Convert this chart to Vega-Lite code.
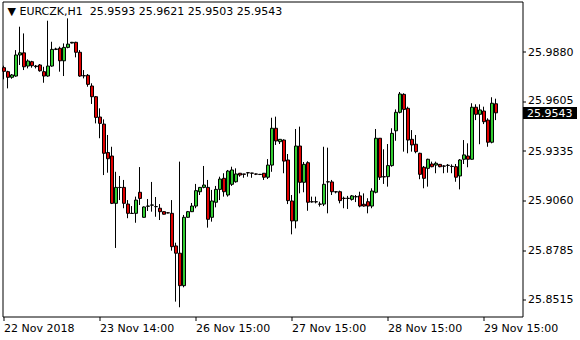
{
"$schema":"https://vega.github.io/schema/vega-lite/v6.json",
"width":520,"height":315,"autosize":"none",
"padding":{"left":2.5,"top":1.5,"right":57.5,"bottom":23.5},
"background":"white",
"view":{"stroke":"black","strokeWidth":1},
"config":{"font":"DejaVu Sans"},
"title":{"text":"▼ EURCZK,H1\u00a0\u00a025.9593 25.9621 25.9503 25.9543","anchor":"start","frame":"group","orient":"none","dy":10.5,"baseline":"middle","fontSize":11,"fontWeight":"normal","font":"DejaVu Sans","color":"black","dx":5},
"data":{"values":[
{"i":0,"o":25.9792,"h":25.9803,"l":25.9728,"c":25.9772},
{"i":1,"o":25.9770,"h":25.9775,"l":25.9678,"c":25.9739},
{"i":2,"o":25.9739,"h":25.9757,"l":25.9731,"c":25.9752},
{"i":3,"o":25.9746,"h":25.9889,"l":25.9742,"c":25.9862},
{"i":4,"o":25.9862,"h":26.0018,"l":25.9807,"c":25.9874},
{"i":5,"o":25.9874,"h":25.9981,"l":25.9779,"c":25.9797},
{"i":6,"o":25.9801,"h":25.9838,"l":25.9788,"c":25.9829},
{"i":7,"o":25.9825,"h":25.9830,"l":25.9792,"c":25.9803},
{"i":8,"o":25.9801,"h":25.9807,"l":25.9788,"c":25.9798},
{"i":9,"o":25.9807,"h":25.9812,"l":25.9770,"c":25.9775},
{"i":10,"o":25.9770,"h":25.9797,"l":25.9709,"c":25.9746},
{"i":11,"o":25.9746,"h":26.0051,"l":25.9742,"c":25.9801},
{"i":12,"o":25.9801,"h":25.9935,"l":25.9797,"c":25.9893},
{"i":13,"o":25.9893,"h":25.9902,"l":25.9889,"c":25.9895},
{"i":14,"o":25.9899,"h":25.9908,"l":25.9770,"c":25.9830},
{"i":15,"o":25.9830,"h":25.9926,"l":25.9746,"c":25.9904},
{"i":16,"o":25.9904,"h":26.0064,"l":25.9899,"c":25.9922},
{"i":17,"o":25.9928,"h":25.9934,"l":25.9926,"c":25.9932},
{"i":18,"o":25.9932,"h":25.9935,"l":25.9849,"c":25.9877},
{"i":19,"o":25.9877,"h":25.9889,"l":25.9742,"c":25.9746},
{"i":20,"o":25.9748,"h":25.9779,"l":25.9733,"c":25.9747},
{"i":21,"o":25.9750,"h":25.9757,"l":25.9687,"c":25.9700},
{"i":22,"o":25.9691,"h":25.9706,"l":25.9592,"c":25.9632},
{"i":23,"o":25.9632,"h":25.9636,"l":25.9485,"c":25.9518},
{"i":24,"o":25.9520,"h":25.9568,"l":25.9403,"c":25.9485},
{"i":25,"o":25.9481,"h":25.9507,"l":25.9200,"c":25.9320},
{"i":26,"o":25.9324,"h":25.9421,"l":25.9213,"c":25.9290},
{"i":27,"o":25.9305,"h":25.9356,"l":25.9040,"c":25.9044},
{"i":28,"o":25.9044,"h":25.9218,"l":25.8798,"c":25.9132},
{"i":29,"o":25.9132,"h":25.9195,"l":25.9062,"c":25.9131},
{"i":30,"o":25.9132,"h":25.9173,"l":25.9017,"c":25.9044},
{"i":31,"o":25.9040,"h":25.9062,"l":25.8962,"c":25.8989},
{"i":32,"o":25.8989,"h":25.9029,"l":25.8988,"c":25.8988},
{"i":33,"o":25.8989,"h":25.9081,"l":25.8937,"c":25.9062},
{"i":34,"o":25.9105,"h":25.9244,"l":25.9035,"c":25.9071},
{"i":35,"o":25.8967,"h":25.9027,"l":25.8966,"c":25.9024},
{"i":36,"o":25.9028,"h":25.9068,"l":25.9002,"c":25.9029},
{"i":37,"o":25.9034,"h":25.9162,"l":25.8998,"c":25.9035},
{"i":38,"o":25.9026,"h":25.9079,"l":25.8970,"c":25.9026},
{"i":39,"o":25.9017,"h":25.9040,"l":25.8952,"c":25.8998},
{"i":40,"o":25.8998,"h":25.8999,"l":25.8983,"c":25.8984},
{"i":41,"o":25.8992,"h":25.8995,"l":25.8989,"c":25.8991},
{"i":42,"o":25.8989,"h":25.9062,"l":25.8783,"c":25.8805},
{"i":43,"o":25.8809,"h":25.8827,"l":25.8502,"c":25.8769},
{"i":44,"o":25.8769,"h":25.9274,"l":25.8471,"c":25.8590},
{"i":45,"o":25.8590,"h":25.8980,"l":25.8581,"c":25.8967},
{"i":46,"o":25.8967,"h":25.9002,"l":25.8966,"c":25.8998},
{"i":47,"o":25.8998,"h":25.9046,"l":25.8996,"c":25.9029},
{"i":48,"o":25.9029,"h":25.9151,"l":25.9017,"c":25.9114},
{"i":49,"o":25.9108,"h":25.9134,"l":25.9090,"c":25.9132},
{"i":50,"o":25.9132,"h":25.9250,"l":25.9127,"c":25.9145},
{"i":51,"o":25.9132,"h":25.9173,"l":25.8910,"c":25.8956},
{"i":52,"o":25.8967,"h":25.9118,"l":25.8943,"c":25.9057},
{"i":53,"o":25.9050,"h":25.9140,"l":25.9022,"c":25.9121},
{"i":54,"o":25.9121,"h":25.9191,"l":25.9062,"c":25.9178},
{"i":55,"o":25.9182,"h":25.9210,"l":25.9081,"c":25.9108},
{"i":56,"o":25.9090,"h":25.9228,"l":25.9081,"c":25.9222},
{"i":57,"o":25.9149,"h":25.9246,"l":25.9140,"c":25.9228},
{"i":58,"o":25.9163,"h":25.9237,"l":25.9158,"c":25.9206},
{"i":59,"o":25.9210,"h":25.9211,"l":25.9191,"c":25.9200},
{"i":60,"o":25.9206,"h":25.9206,"l":25.9185,"c":25.9204},
{"i":61,"o":25.9213,"h":25.9214,"l":25.9191,"c":25.9212},
{"i":62,"o":25.9211,"h":25.9212,"l":25.9185,"c":25.9210},
{"i":63,"o":25.9206,"h":25.9208,"l":25.9200,"c":25.9205},
{"i":64,"o":25.9204,"h":25.9206,"l":25.9200,"c":25.9203},
{"i":65,"o":25.9210,"h":25.9210,"l":25.9173,"c":25.9188},
{"i":66,"o":25.9188,"h":25.9288,"l":25.9178,"c":25.9255},
{"i":67,"o":25.9255,"h":25.9516,"l":25.9218,"c":25.9458},
{"i":68,"o":25.9458,"h":25.9522,"l":25.9366,"c":25.9388},
{"i":69,"o":25.9384,"h":25.9397,"l":25.9371,"c":25.9397},
{"i":70,"o":25.9393,"h":25.9397,"l":25.9210,"c":25.9277},
{"i":71,"o":25.9283,"h":25.9316,"l":25.9040,"c":25.9059},
{"i":72,"o":25.9057,"h":25.9090,"l":25.8873,"c":25.8947},
{"i":73,"o":25.8947,"h":25.9454,"l":25.8906,"c":25.9360},
{"i":74,"o":25.9360,"h":25.9467,"l":25.9099,"c":25.9160},
{"i":75,"o":25.9160,"h":25.9272,"l":25.9105,"c":25.9259},
{"i":76,"o":25.9268,"h":25.9276,"l":25.9003,"c":25.9050},
{"i":77,"o":25.9053,"h":25.9081,"l":25.9048,"c":25.9052},
{"i":78,"o":25.9053,"h":25.9081,"l":25.9044,"c":25.9052},
{"i":79,"o":25.9040,"h":25.9053,"l":25.9026,"c":25.9039},
{"i":80,"o":25.9040,"h":25.9356,"l":25.9029,"c":25.9149},
{"i":81,"o":25.9163,"h":25.9351,"l":25.8989,"c":25.9162},
{"i":82,"o":25.9162,"h":25.9173,"l":25.9090,"c":25.9108},
{"i":83,"o":25.9108,"h":25.9109,"l":25.9099,"c":25.9107},
{"i":84,"o":25.9108,"h":25.9114,"l":25.9044,"c":25.9059},
{"i":85,"o":25.9072,"h":25.9081,"l":25.9017,"c":25.9071},
{"i":86,"o":25.9072,"h":25.9085,"l":25.9013,"c":25.9071},
{"i":87,"o":25.9066,"h":25.9090,"l":25.9059,"c":25.9085},
{"i":88,"o":25.9081,"h":25.9090,"l":25.9051,"c":25.9080},
{"i":89,"o":25.9085,"h":25.9108,"l":25.9022,"c":25.9029},
{"i":90,"o":25.9039,"h":25.9099,"l":25.9026,"c":25.9029},
{"i":91,"o":25.9053,"h":25.9072,"l":25.8989,"c":25.9029},
{"i":92,"o":25.9029,"h":25.9127,"l":25.9017,"c":25.9112},
{"i":93,"o":25.9105,"h":25.9454,"l":25.9099,"c":25.9403},
{"i":94,"o":25.9403,"h":25.9403,"l":25.9173,"c":25.9188},
{"i":95,"o":25.9191,"h":25.9342,"l":25.9151,"c":25.9190},
{"i":96,"o":25.9191,"h":25.9371,"l":25.9136,"c":25.9252},
{"i":97,"o":25.9252,"h":25.9458,"l":25.9246,"c":25.9430},
{"i":98,"o":25.9444,"h":25.9562,"l":25.9389,"c":25.9546},
{"i":99,"o":25.9546,"h":25.9658,"l":25.9540,"c":25.9647},
{"i":100,"o":25.9645,"h":25.9651,"l":25.9329,"c":25.9562},
{"i":101,"o":25.9568,"h":25.9577,"l":25.9320,"c":25.9393},
{"i":102,"o":25.9397,"h":25.9448,"l":25.9329,"c":25.9366},
{"i":103,"o":25.9370,"h":25.9421,"l":25.9320,"c":25.9329},
{"i":104,"o":25.9320,"h":25.9323,"l":25.9177,"c":25.9204},
{"i":105,"o":25.9243,"h":25.9250,"l":25.9127,"c":25.9182},
{"i":106,"o":25.9237,"h":25.9290,"l":25.9136,"c":25.9287},
{"i":107,"o":25.9261,"h":25.9274,"l":25.9243,"c":25.9246},
{"i":108,"o":25.9255,"h":25.9274,"l":25.9210,"c":25.9265},
{"i":109,"o":25.9259,"h":25.9260,"l":25.9243,"c":25.9246},
{"i":110,"o":25.9250,"h":25.9254,"l":25.9210,"c":25.9249},
{"i":111,"o":25.9254,"h":25.9261,"l":25.9213,"c":25.9253},
{"i":112,"o":25.9248,"h":25.9259,"l":25.9210,"c":25.9247},
{"i":113,"o":25.9246,"h":25.9261,"l":25.9163,"c":25.9188},
{"i":114,"o":25.9195,"h":25.9288,"l":25.9121,"c":25.9283},
{"i":115,"o":25.9287,"h":25.9393,"l":25.9261,"c":25.9311},
{"i":116,"o":25.9305,"h":25.9375,"l":25.9243,"c":25.9287},
{"i":117,"o":25.9287,"h":25.9596,"l":25.9286,"c":25.9574},
{"i":118,"o":25.9574,"h":25.9590,"l":25.9503,"c":25.9535},
{"i":119,"o":25.9535,"h":25.9590,"l":25.9370,"c":25.9559},
{"i":120,"o":25.9553,"h":25.9577,"l":25.9481,"c":25.9494},
{"i":121,"o":25.9503,"h":25.9513,"l":25.9356,"c":25.9381},
{"i":122,"o":25.9381,"h":25.9629,"l":25.9375,"c":25.9596},
{"i":123,"o":25.9593,"h":25.9621,"l":25.9503,"c":25.9543}
]},
"encoding":{
 "x":{"field":"i","type":"quantitative","scale":{"domain":[-0.25,129.75],"nice":false,"zero":false,"padding":0},
  "axis":{"title":null,"grid":false,"domain":false,"values":[0,24,48,72,96,120],
   "labelExpr":"datum.value==0?'22 Nov 2018':datum.value==24?'23 Nov 14:00':datum.value==48?'26 Nov 15:00':datum.value==72?'27 Nov 15:00':datum.value==96?'28 Nov 15:00':'29 Nov 15:00'",
   "labelAlign":"left","labelBaseline":"top","labelPadding":2,"tickSize":4,"tickColor":"black","labelColor":"black","labelFont":"DejaVu Sans","labelFontSize":11,"labelFlush":false,"labelOverlap":false}}
},
"layer":[
 {"mark":{"type":"rule","color":"black","strokeWidth":1},
  "encoding":{
   "y":{"field":"l","type":"quantitative","scale":{"domain":[25.842,26.0157],"nice":false,"zero":false,"padding":0},
    "axis":{"orient":"right","title":null,"grid":false,"domain":false,"values":[25.8515,25.8785,25.906,25.9335,25.9543,25.9605,25.988],"format":".4f",
     "tickColor":"black","labelColor":{"condition":{"test":"abs(datum.value-25.9543)<0.00001","value":"white"},"value":"black"},
     "tickSize":{"condition":{"test":"abs(datum.value-25.9543)<0.00001","value":54},"value":3},
     "tickWidth":{"condition":{"test":"abs(datum.value-25.9543)<0.00001","value":12},"value":1},
     "labelPadding":{"condition":{"test":"abs(datum.value-25.9543)<0.00001","value":-50},"value":2},
     "labelOffset":{"condition":{"test":"datum.value>25.96 && datum.value<25.962","value":-1},"value":0.5},
     "labelBaseline":"middle","labelFont":"DejaVu Sans","labelFontSize":11,"labelFlush":false,"labelOverlap":false}},
   "y2":{"field":"h"}}},
 {"mark":{"type":"bar","size":3,"stroke":"black","strokeWidth":1,"xOffset":0.5},
  "encoding":{
   "y":{"field":"o","type":"quantitative"},
   "y2":{"field":"c"},
   "color":{"condition":{"test":"datum.c>=datum.o","value":"#32CD32"},"value":"#E00000"}}}
]
}
